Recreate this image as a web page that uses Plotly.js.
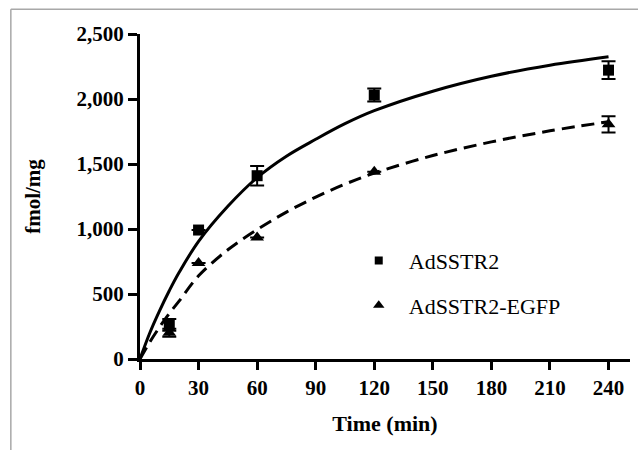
<!DOCTYPE html>
<html>
<head>
<meta charset="utf-8">
<script src="https://cdn.plot.ly/plotly-3.0.1.min.js"></script>
<style>
html,body{margin:0;padding:0;background:#fff;}
#chart{width:638px;height:450px;}
</style>
</head>
<body>
<div id="chart"></div>
<script>
// Measured points
const timePts = [15, 30, 60, 120, 240];
const ssTR2 = [262, 992, 1410, 2030, 2222];
const ssTR2Err = [45, 0, 75, 50, 68];
const egfp = [202, 738, 935, 1440, 1805];
const egfpErr = [30, 0, 0, 0, 62];

// Fitted curves
const curveX = [0, 5, 10, 15, 20, 30, 45, 60, 75, 90, 105, 120, 150, 180, 210, 240];
const fitSSTR2 = [0, 200, 370, 525, 665, 905, 1175, 1395, 1560, 1690, 1810, 1910, 2060, 2175, 2260, 2325];
const fitEGFP = [0, 130, 245, 350, 445, 640, 840, 995, 1130, 1245, 1345, 1430, 1565, 1670, 1755, 1825];

const xTicks = [0, 30, 60, 90, 120, 150, 180, 210, 240];
const yTicks = [0, 500, 1000, 1500, 2000, 2500];
const names = ["AdSSTR2", "AdSSTR2-EGFP"];

const serif = "Liberation Serif";

const traces = [
  {x: curveX, y: fitSSTR2, mode: "lines", line: {color: "#000", width: 3, shape: "spline"}, showlegend: false, hoverinfo: "skip"},
  {x: curveX, y: fitEGFP, mode: "lines", line: {color: "#000", width: 3, shape: "spline", dash: "13px,7px"}, showlegend: false, hoverinfo: "skip"},
  {x: timePts, y: egfp, mode: "markers", showlegend: false,
   marker: {symbol: "triangle-up", size: 12, color: "#000"},
   error_y: {type: "data", array: egfpErr, visible: true, color: "#000", thickness: 2, width: 7},
   cliponaxis: false},
  {x: timePts, y: ssTR2, mode: "markers", showlegend: false,
   marker: {symbol: "square", size: 11, color: "#000"},
   error_y: {type: "data", array: ssTR2Err, visible: true, color: "#000", thickness: 2, width: 7},
   cliponaxis: false},
  // legend entries
  {x: [null], y: [null], name: names[0], legendgroup: "a", mode: "markers",
   marker: {symbol: "square", size: 8, color: "#000"}},
  {x: [null], y: [null], name: names[1], legendgroup: "b", mode: "markers",
   marker: {symbol: "triangle-up", size: 10, color: "#000"}}
];

const layout = {
  width: 638, height: 450,
  margin: {l: 140, r: 8, t: 34, b: 91},
  paper_bgcolor: "#fff", plot_bgcolor: "#fff",
  font: {family: serif, color: "#000"},
  showlegend: true,
  legend: {x: 0.426, y: 0.367, xanchor: "left", yanchor: "top", bgcolor: "rgba(0,0,0,0)",
           itemwidth: 50,
           font: {family: serif, size: 22, color: "#000"}, tracegroupgap: 13, traceorder: "grouped"},
  xaxis: {
    range: [0, 251], tickvals: xTicks, ticktext: xTicks.map(String),
    showgrid: false, zeroline: false, showline: true, linecolor: "#000", linewidth: 3,
    ticks: "outside", ticklen: 8, tickwidth: 3, tickcolor: "#000",
    tickfont: {family: serif, size: 21, weight: "bold"},
    title: {text: "Time (min)", font: {family: serif, size: 22, weight: "bold"}, standoff: 17}
  },
  yaxis: {
    range: [0, 2500], tickvals: yTicks, tickformat: ",d",
    showgrid: false, zeroline: false, showline: true, linecolor: "#000", linewidth: 3,
    ticks: "outside", ticklen: 9, tickwidth: 3, tickcolor: "#000",
    tickfont: {family: serif, size: 21, weight: "bold"},
    title: {text: "fmol/mg", font: {family: serif, size: 21, weight: "bold"}, standoff: 31}
  },
  shapes: [
    {type: "line", xref: "paper", yref: "paper", x0: -0.2636, x1: 1.02, y0: 1.0765, y1: 1.0765, line: {color: "#a8a8a8", width: 1.5}},
    {type: "line", xref: "paper", yref: "paper", x0: -0.2636, x1: -0.2636, y0: 1.0765, y1: -0.3, line: {color: "#a8a8a8", width: 1.5}}
  ]
};

Plotly.newPlot("chart", traces, layout, {displayModeBar: false, staticPlot: true});
</script>
</body>
</html>
